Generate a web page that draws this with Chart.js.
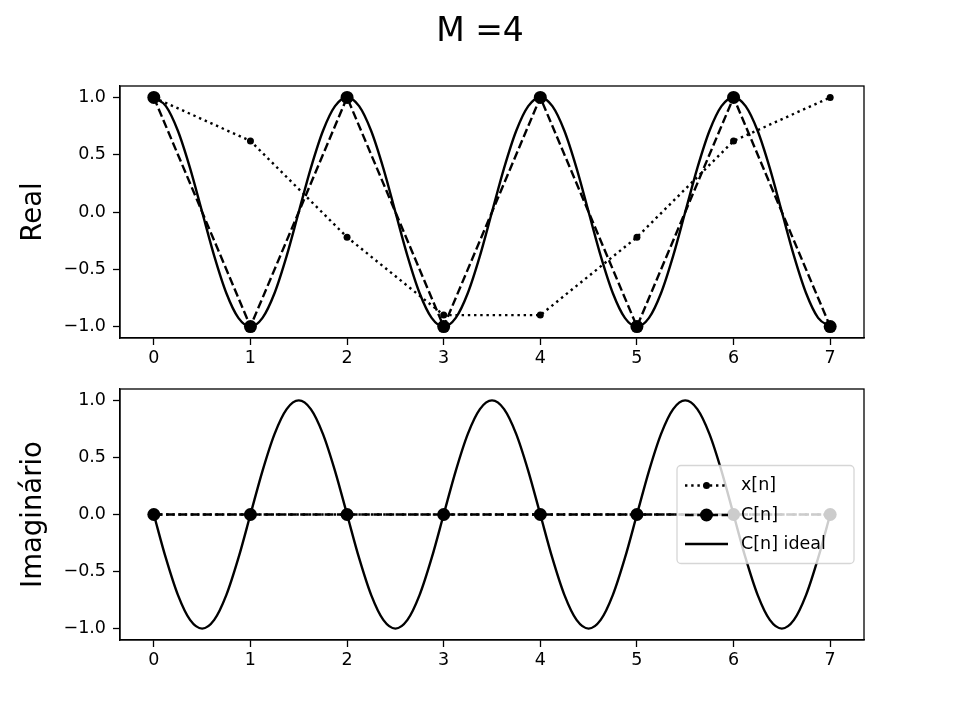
<!DOCTYPE html>
<html>
<head>
<meta charset="utf-8">
<script src="https://cdn.jsdelivr.net/npm/chart.js@4/dist/chart.umd.min.js"></script>
<style>
  html, body { margin: 0; padding: 0; background: #ffffff; }
  #wrap { position: relative; width: 960px; height: 720px; background: #ffffff; }
  canvas { position: absolute; left: 0; top: 0; }
</style>
</head>
<body>
<div id="wrap">
  <canvas id="c1" width="960" height="720"></canvas>
  <canvas id="c2" width="960" height="720"></canvas>
</div>
<script>
// ---- data ----
const titleText = 'M =4';
const yLabels = ['Real', 'Imaginário'];
const seriesNames = ['x[n]', 'C[n]', 'C[n] ideal'];
const xTicks = [0, 1, 2, 3, 4, 5, 6, 7];
const yTicks = [-1.0, -0.5, 0.0, 0.5, 1.0];
const nIdx = [0, 1, 2, 3, 4, 5, 6, 7];
const xReal = [1.0, 0.62, -0.22, -0.9, -0.9, -0.22, 0.62, 1.0];
const xImag = [0, 0, 0, 0, 0, 0, 0, 0];
const cReal = [1, -1, 1, -1, 1, -1, 1, -1];
const cImag = [0, 0, 0, 0, 0, 0, 0, 0];
const tIdeal = [
  0, 0.125, 0.25, 0.375, 0.5, 0.625, 0.75, 0.875,
  1, 1.125, 1.25, 1.375, 1.5, 1.625, 1.75, 1.875,
  2, 2.125, 2.25, 2.375, 2.5, 2.625, 2.75, 2.875,
  3, 3.125, 3.25, 3.375, 3.5, 3.625, 3.75, 3.875,
  4, 4.125, 4.25, 4.375, 4.5, 4.625, 4.75, 4.875,
  5, 5.125, 5.25, 5.375, 5.5, 5.625, 5.75, 5.875,
  6, 6.125, 6.25, 6.375, 6.5, 6.625, 6.75, 6.875, 7
];
const idealReal = [
  1, 0.924, 0.707, 0.383, 0, -0.383, -0.707, -0.924,
  -1, -0.924, -0.707, -0.383, 0, 0.383, 0.707, 0.924,
  1, 0.924, 0.707, 0.383, 0, -0.383, -0.707, -0.924,
  -1, -0.924, -0.707, -0.383, 0, 0.383, 0.707, 0.924,
  1, 0.924, 0.707, 0.383, 0, -0.383, -0.707, -0.924,
  -1, -0.924, -0.707, -0.383, 0, 0.383, 0.707, 0.924,
  1, 0.924, 0.707, 0.383, 0, -0.383, -0.707, -0.924, -1
];
const idealImag = [
  0, -0.383, -0.707, -0.924, -1, -0.924, -0.707, -0.383,
  0, 0.383, 0.707, 0.924, 1, 0.924, 0.707, 0.383,
  0, -0.383, -0.707, -0.924, -1, -0.924, -0.707, -0.383,
  0, 0.383, 0.707, 0.924, 1, 0.924, 0.707, 0.383,
  0, -0.383, -0.707, -0.924, -1, -0.924, -0.707, -0.383,
  0, 0.383, 0.707, 0.924, 1, 0.924, 0.707, 0.383,
  0, -0.383, -0.707, -0.924, -1, -0.924, -0.707, -0.383, 0
];

// ---- styles ----
const FONT = "'DejaVu Sans', sans-serif";
const TICK_PX = 17.5;
const LW = 2.4;
const DOT = [2.4, 3.8];
const DASH = [8.6, 3.6];
const R_BIG = 6.5;
const R_SMALL = 3.5;
Chart.defaults.font.family = FONT;
Chart.defaults.color = '#000';

function pts(xs, ys) { return xs.map((x, i) => ({ x: x, y: ys[i] })); }
function fmtY(v) { return v.toFixed(1).replace('-', '\u2212'); }

function makeScales() {
  return {
    x: {
      type: 'linear', min: -0.35, max: 7.35,
      afterBuildTicks: s => { s.ticks = xTicks.map(v => ({ value: v })); },
      afterFit: s => { s.height = 40; },
      ticks: { callback: v => String(v), font: { size: TICK_PX }, color: '#000', padding: 3, maxRotation: 0 },
      grid: { drawOnChartArea: false, drawTicks: true, tickLength: 7, tickColor: '#000', tickWidth: 1.3 },
      border: { display: true, color: '#000', width: 1.3 }
    },
    y: {
      type: 'linear', min: -1.1, max: 1.1,
      afterBuildTicks: s => { s.ticks = yTicks.map(v => ({ value: v })); },
      afterFit: s => { s.width = 120; },
      ticks: { callback: v => fmtY(v), font: { size: TICK_PX }, color: '#000', padding: 7 },
      grid: { drawOnChartArea: false, drawTicks: true, tickLength: 7, tickColor: '#000', tickWidth: 1.3 },
      border: { display: true, color: '#000', width: 1.3 }
    }
  };
}

function makeDatasets(xv, cv, iv) {
  return [
    { label: seriesNames[1], data: pts(nIdx, cv), borderColor: '#000', backgroundColor: '#000',
      borderWidth: LW, borderDash: DASH, pointRadius: R_BIG, pointBorderWidth: 0,
      pointBackgroundColor: '#000', tension: 0, order: 0 },
    { label: seriesNames[0], data: pts(nIdx, xv), borderColor: '#000', backgroundColor: '#000',
      borderWidth: LW, borderDash: DOT, pointRadius: R_SMALL, pointBorderWidth: 0,
      pointBackgroundColor: '#000', tension: 0, order: 1 },
    { label: seriesNames[2], data: pts(tIdeal, iv), borderColor: '#000', backgroundColor: '#000',
      borderWidth: LW, pointRadius: 0, cubicInterpolationMode: 'monotone', order: 2 }
  ];
}

function frameAndLabel(label, baselineX, withTitle) {
  return {
    id: 'frame',
    afterDraw(chart) {
      const ctx = chart.ctx, a = chart.chartArea;
      ctx.save();
      ctx.strokeStyle = '#000';
      ctx.lineWidth = 1.3;
      ctx.strokeRect(a.left, a.top, a.right - a.left, a.bottom - a.top);
      ctx.fillStyle = '#000';
      ctx.font = '27.5px ' + FONT;
      ctx.textAlign = 'center';
      ctx.textBaseline = 'alphabetic';
      ctx.translate(baselineX, (a.top + a.bottom) / 2);
      ctx.rotate(-Math.PI / 2);
      ctx.fillText(label, 0, 0);
      ctx.restore();
      if (withTitle) {
        ctx.save();
        ctx.fillStyle = '#000';
        ctx.font = '33px ' + FONT;
        ctx.textAlign = 'center';
        ctx.textBaseline = 'alphabetic';
        ctx.fillText(titleText, 480, 41);
        ctx.restore();
      }
    }
  };
}

const legendPlugin = {
  id: 'mplLegend',
  afterDraw(chart) {
    const ctx = chart.ctx, a = chart.chartArea;
    const w = 177, h = 98;
    const x0 = a.right - 10 - w;
    const cy = (a.top + a.bottom) / 2;
    const y0 = cy - h / 2;
    ctx.save();
    ctx.beginPath();
    ctx.roundRect(x0, y0, w, h, 4);
    ctx.fillStyle = 'rgba(255,255,255,0.8)';
    ctx.fill();
    ctx.strokeStyle = 'rgba(204,204,204,0.8)';
    ctx.lineWidth = 1.3;
    ctx.stroke();
    const hx0 = x0 + 8, hx1 = x0 + 51, hxc = (hx0 + hx1) / 2;
    const rows = [cy - 29, cy + 0.5, cy + 29.5];
    const dashes = [DOT, DASH, []];
    const radii = [R_SMALL, R_BIG, 0];
    ctx.strokeStyle = '#000';
    ctx.fillStyle = '#000';
    ctx.lineWidth = LW;
    for (let i = 0; i < 3; i++) {
      ctx.setLineDash(dashes[i]);
      ctx.beginPath();
      ctx.moveTo(hx0, rows[i]);
      ctx.lineTo(hx1, rows[i]);
      ctx.stroke();
      ctx.setLineDash([]);
      if (radii[i] > 0) {
        ctx.beginPath();
        ctx.arc(hxc, rows[i], radii[i], 0, Math.PI * 2);
        ctx.fill();
      }
    }
    ctx.font = TICK_PX + 'px ' + FONT;
    ctx.textAlign = 'left';
    ctx.textBaseline = 'middle';
    for (let i = 0; i < 3; i++) {
      ctx.fillText(seriesNames[i], x0 + 64, rows[i]);
    }
    ctx.restore();
  }
};

function baseOptions(padTop, padBottom) {
  return {
    responsive: false,
    animation: false,
    devicePixelRatio: 1,
    layout: { padding: { top: padTop, right: 96, bottom: padBottom, left: 0 } },
    plugins: { legend: { display: false }, tooltip: { enabled: false }, title: { display: false } },
    scales: makeScales()
  };
}

new Chart(document.getElementById('c1'), {
  type: 'line',
  data: { datasets: makeDatasets(xReal, cReal, idealReal) },
  options: baseOptions(86, 720 - 338 - 40),
  plugins: [frameAndLabel(yLabels[0], 41, true)]
});

new Chart(document.getElementById('c2'), {
  type: 'line',
  data: { datasets: makeDatasets(xImag, cImag, idealImag) },
  options: baseOptions(389, 720 - 640 - 40),
  plugins: [frameAndLabel(yLabels[1], 41, false), legendPlugin]
});
</script>
</body>
</html>
